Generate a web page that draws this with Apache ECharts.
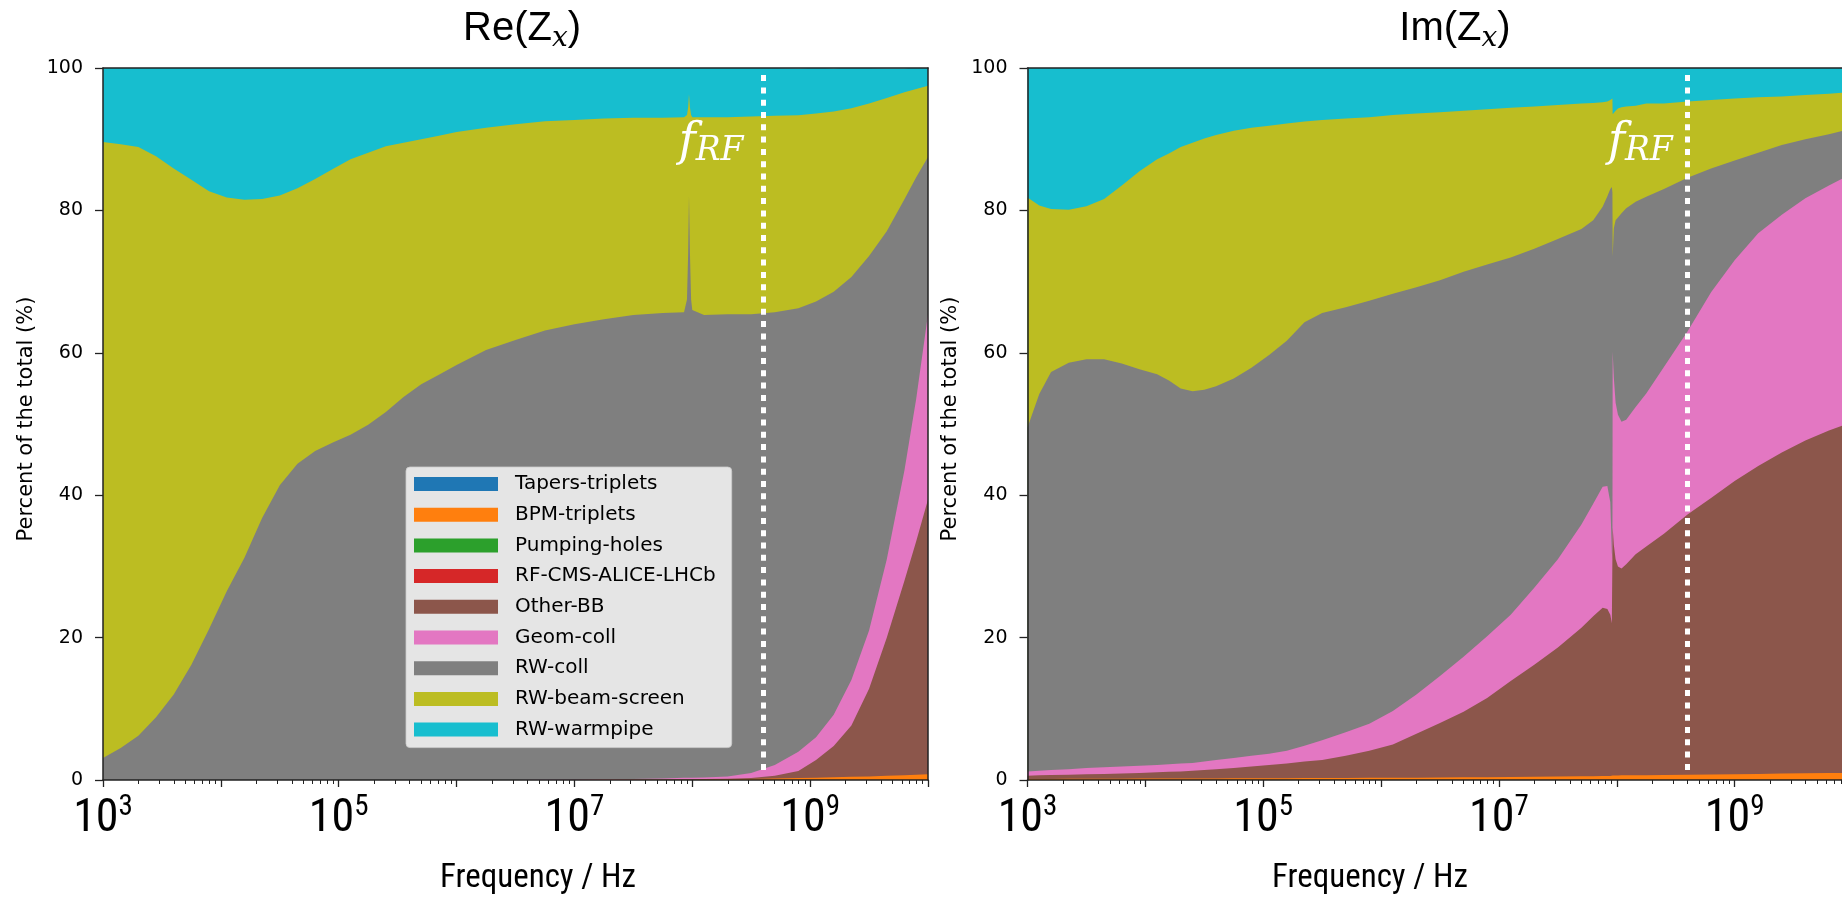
<!DOCTYPE html>
<html>
<head>
<meta charset="utf-8">
<title>Transverse impedance contributions</title>
<script src="https://cdn.jsdelivr.net/npm/echarts@6/dist/echarts.min.js"></script>
<style>
  html, body { margin: 0; padding: 0; background: #ffffff; }
  #chart { width: 1842px; height: 911px; }
</style>
</head>
<body>
<div id="chart"></div>
<script>
// ---------------------------------------------------------------------------
// Share of each impedance source in the total (percent), versus frequency.
// Frequencies are stored as log10(f / Hz).
// ---------------------------------------------------------------------------

// Re(Zx) panel
const reLogFreq = [3.0, 3.15, 3.3, 3.45, 3.6, 3.75, 3.9, 4.05, 4.2, 4.35, 4.5, 4.65, 4.8, 4.95, 5.1, 5.25, 5.4, 5.55, 5.7, 5.85, 6.0,
  6.25, 6.5, 6.75, 7.0, 7.25, 7.5, 7.75,
  7.93, 7.955, 7.965, 7.972, 7.98, 7.99, 8.0,
  8.1, 8.3, 8.5, 8.7, 8.9,
  9.05, 9.2, 9.35, 9.5, 9.65, 9.8, 9.9, 10.0];
const reTapers = [0, 0, 0, 0, 0, 0, 0, 0, 0, 0, 0, 0, 0, 0, 0, 0, 0, 0, 0, 0, 0,
  0, 0, 0, 0, 0, 0, 0,
  0, 0, 0, 0, 0, 0, 0,
  0, 0, 0, 0, 0,
  0, 0, 0, 0, 0, 0, 0, 0];
const reBPM = [0, 0, 0, 0, 0, 0, 0, 0, 0, 0, 0, 0, 0, 0, 0, 0, 0, 0, 0, 0, 0,
  0, 0, 0, 0.01, 0.02, 0.03, 0.04,
  0.05, 0.05, 0.05, 0.05, 0.05, 0.05, 0.05,
  0.07, 0.1, 0.15, 0.2, 0.27,
  0.32, 0.38, 0.44, 0.5, 0.58, 0.68, 0.74, 0.8];
const rePumping = [0, 0, 0, 0, 0, 0, 0, 0, 0, 0, 0, 0, 0, 0, 0, 0, 0, 0, 0, 0, 0,
  0, 0, 0, 0, 0, 0, 0,
  0, 0, 0, 0, 0, 0, 0,
  0, 0, 0, 0, 0,
  0, 0, 0, 0, 0, 0, 0, 0];
const reRF = [0, 0, 0, 0, 0, 0, 0, 0, 0, 0, 0, 0, 0, 0, 0, 0, 0, 0, 0, 0, 0,
  0, 0, 0, 0, 0, 0, 0,
  0, 0, 0, 0, 0, 0, 0,
  0, 0, 0, 0, 0,
  0, 0, 0, 0, 0, 0, 0, 0];
const reOtherBB = [0, 0, 0, 0, 0, 0, 0, 0, 0, 0, 0, 0, 0, 0, 0, 0, 0, 0, 0, 0, 0,
  0, 0, 0, 0.01, 0.02, 0.03, 0.04,
  0.05, 0.05, 0.05, 0.05, 0.05, 0.05, 0.05,
  0.06, 0.08, 0.12, 0.4, 1.0,
  2.5, 4.4, 7.2, 12.3, 19.4, 27.3, 32.8, 38.6];
const reGeomColl = [0, 0, 0, 0, 0, 0, 0, 0, 0, 0, 0, 0, 0, 0, 0, 0, 0, 0, 0, 0, 0,
  0, 0, 0.02, 0.03, 0.06, 0.09, 0.14,
  0.2, 0.2, 0.2, 0.2, 0.2, 0.2, 0.2,
  0.22, 0.32, 0.73, 1.5, 2.7,
  3.2, 4.4, 6.4, 8.2, 11.0, 15.5, 20.0, 26.0];
const reRWcoll = [3.1, 4.5, 6.2, 8.8, 12.0, 16.2, 21.2, 26.5, 31.2, 36.8, 41.4, 44.4, 46.2, 47.4, 48.5, 49.9, 51.7, 53.8, 55.6, 56.9, 58.3,
  60.4, 61.8, 63.1, 63.95, 64.6, 65.15, 65.38,
  65.4, 67.2, 73.7, 81.7, 73.7, 67.2, 65.7,
  64.95, 64.9, 64.4, 63.6, 62.3,
  61.2, 59.4, 56.6, 52.6, 46.1, 38.1, 31.1, 22.1];
const reBeamScreen = [86.5, 84.8, 82.7, 78.8, 73.9, 68.1, 61.5, 55.3, 50.3, 44.8, 40.7, 38.7, 38.2, 38.4, 38.7, 38.2, 37.3, 35.7, 34.4, 33.6, 32.7,
  31.2, 30.3, 29.4, 28.7, 28.2, 27.7, 27.4,
  27.4, 25.9, 20.5, 14.3, 20.5, 25.9, 27.1,
  27.8, 27.7, 27.8, 27.6, 27.1,
  26.4, 25.3, 23.7, 21.4, 18.7, 15.0, 12.4, 10.0];
const reWarmpipe = [10.4, 10.7, 11.1, 12.4, 14.1, 15.7, 17.3, 18.2, 18.5, 18.4, 17.9, 16.9, 15.6, 14.2, 12.8, 11.9, 11.0, 10.5, 10.0, 9.5, 9.0,
  8.4, 7.9, 7.5, 7.3, 7.1, 7.0, 7.0,
  6.9, 6.6, 5.5, 3.7, 5.5, 6.6, 6.9,
  6.9, 6.9, 6.8, 6.7, 6.6,
  6.4, 6.1, 5.7, 5.0, 4.2, 3.4, 3.0, 2.5];

// Im(Zx) panel
const imLogFreq = [3.0, 3.1, 3.2, 3.35, 3.5, 3.65, 3.8, 3.95, 4.1, 4.2,
  4.3, 4.4, 4.5, 4.6, 4.75, 4.9, 5.05, 5.2, 5.35, 5.5,
  5.7, 5.9, 6.1, 6.3, 6.5, 6.7, 6.9, 7.1, 7.3, 7.5,
  7.7, 7.8, 7.88, 7.92, 7.945, 7.958, 7.963, 7.965, 7.975, 7.99,
  8.01, 8.04, 8.08, 8.16, 8.25, 8.4, 8.6, 8.8, 9.0, 9.2,
  9.4, 9.6, 9.8, 10.0];
const imTapers = [0, 0, 0, 0, 0, 0, 0, 0, 0, 0,
  0, 0, 0, 0, 0, 0, 0, 0, 0, 0,
  0, 0, 0, 0, 0, 0, 0, 0, 0, 0,
  0, 0, 0, 0, 0, 0, 0, 0, 0, 0,
  0, 0, 0, 0, 0, 0, 0, 0, 0, 0,
  0, 0, 0, 0];
const imBPM = [0.15, 0.15, 0.15, 0.16, 0.17, 0.18, 0.19, 0.2, 0.2, 0.2,
  0.21, 0.21, 0.22, 0.22, 0.23, 0.24, 0.25, 0.26, 0.27, 0.28,
  0.29, 0.3, 0.31, 0.33, 0.35, 0.37, 0.4, 0.42, 0.45, 0.48,
  0.52, 0.54, 0.55, 0.56, 0.57, 0.58, 0.59, 0.62, 0.62, 0.63,
  0.64, 0.65, 0.65, 0.66, 0.68, 0.7, 0.74, 0.78, 0.82, 0.86,
  0.9, 0.94, 0.97, 1.0];
const imPumping = [0, 0, 0, 0, 0, 0, 0, 0, 0, 0,
  0, 0, 0, 0, 0, 0, 0, 0, 0, 0,
  0, 0, 0, 0, 0, 0, 0, 0, 0, 0,
  0, 0, 0, 0, 0, 0, 0, 0, 0, 0,
  0, 0, 0, 0, 0, 0, 0, 0, 0, 0,
  0, 0, 0, 0];
const imRF = [0, 0, 0, 0, 0, 0, 0, 0, 0, 0,
  0, 0, 0, 0, 0, 0, 0, 0, 0, 0,
  0, 0, 0, 0, 0, 0, 0, 0, 0, 0,
  0, 0, 0, 0, 0, 0, 0, 0, 0, 0,
  0, 0, 0, 0, 0, 0, 0, 0, 0, 0,
  0, 0, 0, 0];
const imOtherBB = [0.45, 0.5, 0.55, 0.59, 0.63, 0.67, 0.71, 0.8, 0.9, 0.95,
  0.99, 1.09, 1.18, 1.28, 1.47, 1.66, 1.85, 2.04, 2.33, 2.52,
  3.11, 3.8, 4.69, 6.17, 7.65, 9.23, 11.1, 13.48, 15.75, 18.12,
  20.88, 22.46, 23.65, 23.44, 22.63, 21.42, 21.21, 34.88, 32.38, 30.37,
  29.36, 29.05, 29.65, 31.04, 32.12, 33.9, 36.56, 38.82, 41.18, 43.24,
  45.1, 46.76, 48.13, 49.3];
const imGeomColl = [0.6, 0.65, 0.7, 0.75, 0.9, 0.95, 1.0, 1.0, 1.0, 1.05,
  1.1, 1.1, 1.2, 1.3, 1.4, 1.5, 1.6, 1.8, 2.2, 2.8,
  3.3, 3.8, 4.7, 5.5, 6.6, 7.7, 8.7, 9.3, 10.8, 12.4,
  14.5, 15.8, 17.0, 17.3, 15.8, 10.0, 9.2, 24.7, 23.5, 22.0,
  21.3, 20.6, 20.3, 20.7, 21.5, 23.4, 25.7, 28.9, 31.0, 32.7,
  33.4, 34.0, 34.4, 34.9];
const imRWcoll = [48.3, 52.9, 55.9, 57.1, 57.4, 57.3, 56.6, 55.7, 54.9, 53.9,
  52.7, 52.2, 52.2, 52.5, 53.3, 54.5, 56.0, 57.6, 59.5, 60.0,
  59.7, 59.4, 58.6, 57.2, 55.6, 54.1, 52.2, 50.2, 47.6, 45.0,
  41.5, 39.8, 39.3, 40.7, 44.0, 51.3, 51.5, 13.3, 21.0, 25.6,
  27.7, 29.3, 29.7, 28.8, 27.6, 25.0, 21.6, 17.4, 14.0, 11.3,
  9.8, 8.3, 7.2, 6.3];
const imBeamScreen = [32.3, 26.5, 22.9, 21.5, 21.5, 22.5, 25.0, 27.8, 30.2, 31.9,
  33.9, 34.9, 35.3, 35.3, 34.8, 33.7, 32.2, 30.5, 28.2, 27.1,
  26.5, 25.8, 25.1, 24.4, 23.6, 22.6, 21.8, 21.0, 20.0, 18.8,
  17.6, 16.5, 14.7, 13.3, 12.5, 12.3, 13.2, 20.0, 16.1, 15.4,
  15.3, 14.9, 14.3, 13.5, 13.1, 12.0, 10.7, 9.6, 8.7, 7.8,
  6.8, 6.2, 5.7, 5.1];
const imWarmpipe = [18.2, 19.3, 19.8, 19.9, 19.4, 18.4, 16.5, 14.5, 12.8, 12.0,
  11.1, 10.5, 9.9, 9.4, 8.8, 8.4, 8.1, 7.8, 7.5, 7.3,
  7.1, 6.9, 6.6, 6.4, 6.2, 6.0, 5.8, 5.6, 5.4, 5.2,
  5.0, 4.9, 4.8, 4.7, 4.5, 4.4, 4.3, 6.5, 6.4, 6.0,
  5.7, 5.5, 5.4, 5.3, 5.2, 5.0, 4.7, 4.5, 4.3, 4.1,
  4.0, 3.8, 3.6, 3.4];

// Components, bottom of the stack first
const componentNames = ['Tapers-triplets', 'BPM-triplets', 'Pumping-holes', 'RF-CMS-ALICE-LHCb',
  'Other-BB', 'Geom-coll', 'RW-coll', 'RW-beam-screen', 'RW-warmpipe'];
const componentColors = ['#1f77b4', '#ff7f0e', '#2ca02c', '#d62728',
  '#8c564b', '#e377c2', '#7f7f7f', '#bcbd22', '#17becf'];

const fRF = 4.0e8;           // RF frequency [Hz]
const yTicks = [0, 20, 40, 60, 80, 100];

// ---------------------------------------------------------------------------
const SANS = "'DejaVu Sans', sans-serif";
const NARROW = "'Liberation Sans Narrow', 'Arial Narrow', 'Roboto Condensed', 'DejaVu Sans Condensed', 'Liberation Sans', sans-serif";
const LABEL = "'Liberation Sans', Arial, sans-serif";
const MATH = "'DejaVu Serif', serif";
const INK = '#000000';
const SPINE = '#222222';

const reShares = [reTapers, reBPM, rePumping, reRF, reOtherBB, reGeomColl, reRWcoll, reBeamScreen, reWarmpipe];
const imShares = [imTapers, imBPM, imPumping, imRF, imOtherBB, imGeomColl, imRWcoll, imBeamScreen, imWarmpipe];

// running (stacked) upper edge of every component
function stackedTops(shares) {
  const tops = [];
  let run = shares[0].map(function () { return 0; });
  shares.forEach(function (vals) {
    run = run.map(function (r, j) { return r + vals[j]; });
    tops.push(run);
  });
  return tops;
}

const panelLeft = [103, 1027.5];
const panelTop = 68, panelWidth = 825, panelHeight = 712;

// minor ticks of a decade axis: log10(k * 10^e), k = 2..9
const minorTicks = [];
for (let e = 3; e < 10; e++) {
  for (let k = 2; k <= 9; k++) minorTicks.push(e + Math.log10(k));
}

const grids = [];
for (let layer = 0; layer < 2; layer++) {
  for (let p = 0; p < 2; p++) {
    grids.push({ left: panelLeft[p], top: panelTop, width: panelWidth, height: panelHeight,
      containLabel: false, outerBoundsMode: 'none' });
  }
}

function mainXAxis(gridIndex) {
  return {
    gridIndex, type: 'value', min: 3, max: 10, interval: 1, position: 'bottom', z: 10,
    axisLine: { show: true, onZero: false, lineStyle: { color: SPINE, width: 1.5 } },
    axisTick: { show: true, length: 7, lineStyle: { color: SPINE, width: 1.3 } },
    splitLine: { show: false },
    axisLabel: {
      margin: 13,
      formatter: function (v) {
        const e = Math.round(v);
        return (e % 2 === 1) ? '{b|10}{e|' + e + '}' : '';
      },
      rich: {
        b: { fontFamily: NARROW, fontSize: 46, lineHeight: 52, color: INK },
        e: { fontFamily: NARROW, fontSize: 29, lineHeight: 30, verticalAlign: 'top', color: INK }
      }
    }
  };
}
function minorXAxis(gridIndex) {
  return {
    gridIndex, type: 'value', min: 3, max: 10, position: 'bottom', z: 10,
    axisLine: { show: false, onZero: false },
    axisTick: { show: true, length: 4, customValues: minorTicks, lineStyle: { color: SPINE, width: 1 } },
    axisLabel: { show: false },
    splitLine: { show: false }
  };
}
function topSpine(gridIndex) {
  return {
    gridIndex, type: 'value', min: 3, max: 10, position: 'top', z: 10,
    axisLine: { show: true, onZero: false, lineStyle: { color: SPINE, width: 1.5 } },
    axisTick: { show: false }, axisLabel: { show: false }, splitLine: { show: false }
  };
}
function mainYAxis(gridIndex) {
  return {
    gridIndex, type: 'value', min: 0, max: 100, interval: 20, position: 'left', z: 10,
    name: 'Percent of the total (%)', nameLocation: 'middle', nameGap: 66, nameRotate: 90,
    nameTextStyle: { fontFamily: SANS, fontSize: 21, color: INK, padding: [0, 0, 0, 10] },
    axisLine: { show: true, onZero: false, lineStyle: { color: SPINE, width: 1.5 } },
    axisTick: { show: true, length: 8, lineStyle: { color: SPINE, width: 1.3 } },
    axisLabel: { margin: 20, fontFamily: SANS, fontSize: 19, color: INK, customValues: yTicks },
    splitLine: { show: false }
  };
}
function rightSpine(gridIndex) {
  return {
    gridIndex, type: 'value', min: 0, max: 100, position: 'right', z: 10,
    axisLine: { show: true, onZero: false, lineStyle: { color: SPINE, width: 1.5 } },
    axisTick: { show: false }, axisLabel: { show: false }, splitLine: { show: false }
  };
}

const xAxes = [mainXAxis(0), mainXAxis(1), minorXAxis(2), topSpine(2), minorXAxis(3), topSpine(3)];
const yAxes = [mainYAxis(0), mainYAxis(1), rightSpine(2), rightSpine(3)];

function rfMarkers(labelLogFreq) {
  const xr = Math.log10(fRF);
  return {
    markLine: {
      silent: true, animation: false, symbol: ['none', 'none'], z: 8,
      label: { show: false }, emphasis: { disabled: true },
      lineStyle: { color: '#ffffff', width: 5, type: [6, 6.3], cap: 'butt', opacity: 1 },
      data: [[{ coord: [xr, 99] }, { coord: [xr, 1] }]]
    },
    markPoint: {
      silent: true, animation: false, z: 8,
      data: [{
        coord: [labelLogFreq, 93.0], symbol: 'rect', symbolSize: 0,
        label: {
          show: true, position: [0, 0], align: 'left', verticalAlign: 'top',
          formatter: '{f|f}{s|RF}',
          rich: {
            f: { fontFamily: MATH, fontStyle: 'italic', fontSize: 46, lineHeight: 50, color: '#ffffff' },
            s: { fontFamily: MATH, fontStyle: 'italic', fontSize: 33, lineHeight: 22, verticalAlign: 'bottom', color: '#ffffff' }
          }
        }
      }]
    }
  };
}

// Each area is filled from 0 up to its stacked upper edge; components higher
// in the stack are painted first so the lower ones sit in front of them.
function panelSeries(p, logFreq, shares, rfLabelX) {
  const tops = stackedTops(shares);
  const out = [];
  for (let i = shares.length - 1; i >= 0; i--) {
    const trace = shares[i].every(function (v) { return v === 0; });
    out.push({
      name: componentNames[i], type: 'line', xAxisIndex: p, yAxisIndex: p,
      data: logFreq.map(function (x, j) { return [x, tops[i][j]]; }),
      showSymbol: false, symbol: 'none', smooth: false,
      silent: true, animation: false,
      color: componentColors[i],
      itemStyle: { color: componentColors[i] },
      lineStyle: { width: 0, opacity: 0, color: componentColors[i] },
      areaStyle: { color: componentColors[i], opacity: trace ? 0 : 1, origin: 'start' },
      emphasis: { disabled: true }
    });
  }
  Object.assign(out[out.length - 1], rfMarkers(rfLabelX));
  return out;
}

const series = panelSeries(0, reLogFreq, reShares, 7.885)
  .concat(panelSeries(1, imLogFreq, imShares, 7.925));

function panelTitle(cx, prefix) {
  return {
    type: 'text', x: cx, y: 5, z: 20, silent: true,
    style: {
      text: '{n|' + prefix + '(Z}{s|x}{n|)}',
      align: 'center', verticalAlign: 'top',
      rich: {
        n: { fontFamily: LABEL, fontSize: 40, lineHeight: 48, fill: INK },
        s: { fontFamily: MATH, fontStyle: 'italic', fontSize: 28, lineHeight: 20, verticalAlign: 'bottom', fill: INK }
      }
    }
  };
}
function axisTitle(cx) {
  return {
    type: 'text', x: cx, y: 862, z: 20, silent: true,
    style: { text: 'Frequency / Hz', fontFamily: NARROW, fontSize: 33, fill: INK,
      align: 'center', verticalAlign: 'top' }
  };
}

const chart = echarts.init(document.getElementById('chart'), null, { renderer: 'canvas', width: 1842, height: 911 });
chart.setOption({
  backgroundColor: '#ffffff',
  animation: false,
  textStyle: { fontFamily: SANS },
  grid: grids,
  xAxis: xAxes,
  yAxis: yAxes,
  legend: {
    show: true, orient: 'vertical', left: 406, top: 467,
    icon: 'rect', itemWidth: 84, itemHeight: 14, itemGap: 10.7,
    padding: [7, 16, 8, 8],
    backgroundColor: 'rgba(255,255,255,0.8)',
    borderColor: 'rgba(204,204,204,0.8)', borderWidth: 1, borderRadius: 4,
    selectedMode: false,
    itemStyle: { borderWidth: 0 },
    textStyle: { fontFamily: SANS, fontSize: 20, lineHeight: 20, color: INK, padding: [0, 0, 0, 12] },
    data: componentNames.map(function (n, i) { return { name: n, itemStyle: { color: componentColors[i] } }; })
  },
  graphic: [panelTitle(522, 'Re'), panelTitle(1455, 'Im'), axisTitle(538), axisTitle(1370)],
  series: series
});
</script>
</body>
</html>
